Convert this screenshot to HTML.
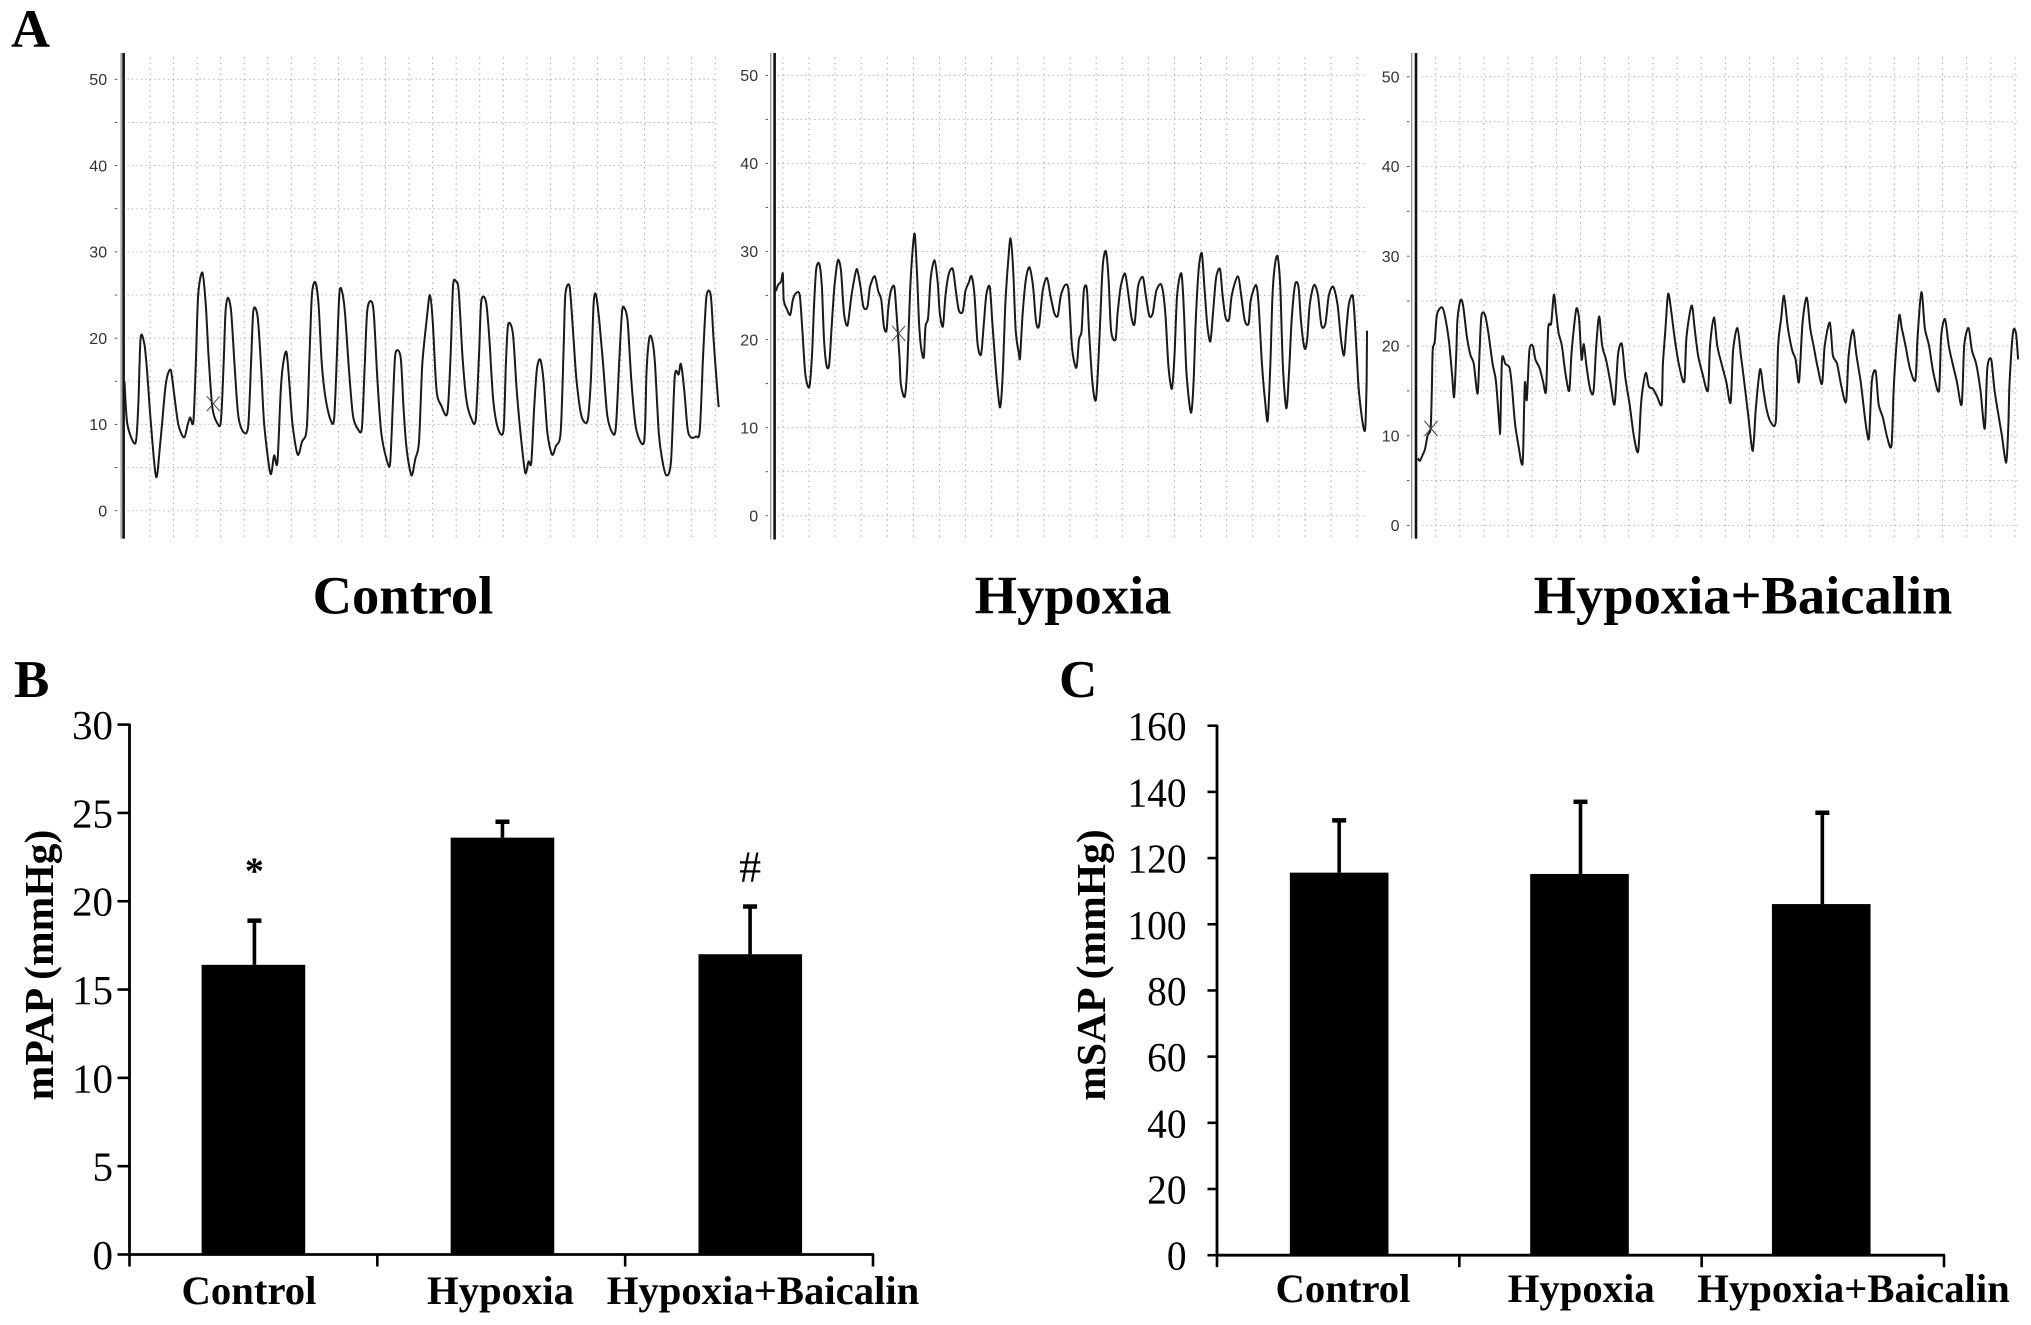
<!DOCTYPE html>
<html>
<head>
<meta charset="utf-8">
<title>mPAP and mSAP under hypoxia and baicalin</title>
<style>
html,body{margin:0;padding:0;background:#fff;}
svg{display:block;}
text{font-family:"Liberation Serif",serif;}
.mono{font-family:"Liberation Sans",sans-serif;}
</style>
</head>
<body>
<svg id="figure" width="2031" height="1325" viewBox="0 0 2031 1325" xmlns="http://www.w3.org/2000/svg">
  <rect width="2031" height="1325" fill="#fff"/>
  <text x="11" y="47" font-size="54" font-weight="700">A</text>
  <text x="14" y="697" font-size="53" font-weight="700">B</text>
  <text x="1059" y="697" font-size="53" font-weight="700">C</text>
  <text x="403" y="613.5" font-size="54.5" font-weight="700" text-anchor="middle">Control</text>
  <text x="1073" y="613.5" font-size="54.5" font-weight="700" text-anchor="middle">Hypoxia</text>
  <text x="1743" y="613.5" font-size="54.5" font-weight="700" text-anchor="middle">Hypoxia+Baicalin</text>
  <text transform="translate(53,965) rotate(-90)" font-size="41.6" font-weight="700" text-anchor="middle">mPAP (mmHg)</text>
  <text transform="translate(1105,965) rotate(-90)" font-size="41.6" font-weight="700" text-anchor="middle">mSAP (mmHg)</text>
  <g id="traces"></g>
  <g id="bars"></g>
</svg>
<script>
/* Panel A: pressure traces (time in recorder units, pressure in mmHg) */
const traceTicks = [0, 10, 20, 30, 40, 50];
const traceGridLevels = [0, 5, 10, 15, 20, 25, 30, 35, 40, 45, 50];

const controlTime = [
264,270,287,293,298,306,312,320,331,340,
350,355,362,368,378,390,398,403,410,415,
420,429,436,442,450,460,468,474,478,483,
490,497,505,516,526,532,537,546,553,560,
573,581,588,595,600,607,613,620,631,640,
650,656,661,668,675,682,690,700,708,714,
719,724,731,740,748,758,767,773,778,785,
792,800,808,820,827,833,838,849,855,862,
872,880,888,895,905,911,917,925,935,948,
955,960,966,972,980,988,998,1008,1015,1020,
1030,1037,1045,1055,1067,1072,1077,1087,1095,1103,
1113,1120,1126,1132,1138,1145,1152,1160,1170,1178,
1188,1194,1198,1207,1214,1222,1232,1245,1252,1258,
1263,1270,1278,1287,1298,1305,1312,1318,1323,1330,
1338,1348,1365,1370,1376,1382,1388,1396,1403,1412,
1422,1430,1438,1443,1450,1457,1464,1475,1483,1490,
1497,1506,1512,1520,1523];
const controlPressure = [
15,10,7.8,12,20,19.3,16,10,3.9,8,
14,15.7,16.3,14,10,8.5,10,10.8,10.3,17,
25,27.6,24,18,12,10.2,10.3,17,23,24.7,
23,17,11,9.1,9.8,17,23.2,22.5,17,10,
4.3,6.4,5.6,14,17,18.4,15,10,6.5,8,
9.5,18,25,26.5,24,17,13,10.6,10.6,18,
25,25.6,23,16,11,9.5,9.6,17,23,24.3,
23,15,9,5.8,5.6,13,18.2,17.8,12,7,
4.1,6,8,17,22.5,25,22,14,12.2,11.3,
18,26,26.6,25.5,18,13,10.8,10.5,18,24.3,
24.2,20,13,9.6,9.3,17,21.6,20.5,14,9,
4.4,5.7,5.6,12,16.5,17.5,15,9,6.5,7.5,
9,18,25,26,21,15,11,10.4,15,24,
25,22,17,11,9,9.6,17,23,23.5,22,
15,9.5,8,16,20,19.8,17,9,6,4.1,
5.7,15.6,15.8,17,14,9.5,8.5,8.6,9.3,18,
24.8,25,20,14,12];

const hypoxiaTime = [
175,180,187,191,193,200,208,214,222,230,
236,243,252,258,263,268,275,281,286,292,
298,303,310,318,325,332,340,348,355,362,
370,377,386,392,403,411,418,424,430,434,
440,448,453,460,463,472,478,484,490,495,
500,505,510,516,520,526,532,541,548,553,
560,566,574,583,590,597,606,612,620,626,
633,640,648,654,660,668,674,680,685,692,
698,704,710,716,722,728,735,738,744,752,
760,768,775,782,790,800,808,817,825,832,
842,850,858,868,874,880,885,892,897,905,
913,920,926,930,936,942,948,958,963,970,
980,988,995,1002,1010,1021,1028,1036,1044,1052,
1064,1073,1080,1088,1094,1100,1110,1116,1122,1132,
1138,1143,1150,1157,1163,1170,1177,1183,1190,1199,
1205,1212,1220,1226,1240,1248,1256,1265,1270,1282,
1288,1296,1303,1309,1315,1320,1326,1332,1338,1344,
1352,1358,1364,1372,1380,1386,1394,1400,1406,1416,
1425,1433,1442,1450,1460,1470,1478,1485,1490,1496,
1505,1510,1518,1524,1530,1534,1537,1538];
const hypoxiaPressure = [
25.5,26.2,26.6,27.5,24.5,23.5,22.8,24.5,25.3,25,
21,16,14.6,18,24,28,28.6,26,20,17,
17.2,21,26,29,27.8,23,21.6,24.5,26.7,28,
26,23.7,23.7,26,27.2,25.5,24.5,21.5,21,23.5,
25.5,26,23,18,15,13.5,17,25,30,32,
28,22,19,18,21.5,22.5,27,29,26.5,23,
21.5,25,27.5,28,25.5,23.3,23.2,25.5,26.5,27.2,
25,19.5,18.3,21.5,25,26,22,18,15,12.3,
16,24,28.5,31.5,28,21,18.5,18,23,27,
28.2,26,22,21.6,25.5,27,25,23,22.7,25,
26.2,25.5,19,16.8,20,21,25.5,25.8,21,15,
13.2,19,26,29,30,27,21,20,23,26,
27.5,25,22.5,21.8,26,27.1,25,22.7,23,25.5,
26.2,23,17,14.4,18,25,27.5,23,16,11.7,
15,22,28,29.8,26,21.5,19.8,23,27,28,
25,22.5,22.3,25,27.2,25,22.2,21.8,24.5,26.2,
24,17,13,10.8,17,25,28.6,29.4,26,17,
12.2,16,22,26.2,26,22,19,20,24,26.2,
25,21.6,21.8,25,26,24,20,18.2,21,24,
25,22,15,12,10,10,15,21];

const baicalinTime = [
135,140,146,152,158,165,168,170,175,180,
192,200,208,215,220,225,228,235,241,250,
258,266,275,280,284,292,300,310,318,326,
328,332,340,350,356,362,370,380,384,386,
390,396,404,410,420,428,435,440,447,453,
458,464,472,480,489,494,500,506,512,518,
523,530,539,546,552,559,566,575,585,595,
603,612,620,630,640,650,656,660,668,675,
685,695,705,708,714,720,727,735,745,758,
763,775,782,790,800,813,818,827,835,845,
856,866,872,882,890,898,908,918,925,935,
943,950,960,972,977,984,991,1000,1010,1018,
1026,1034,1044,1052,1060,1070,1080,1086,1098,1105,
1115,1125,1136,1142,1152,1160,1170,1180,1186,1190,
1196,1205,1212,1222,1232,1242,1247,1252,1260,1266,
1275,1285,1298,1303,1312,1320,1330,1340,1353,1358,
1367,1376,1385,1395,1406,1412,1422,1430,1440,1450,
1460,1466,1475,1483,1493,1500,1510,1515,1518,1526,
1533,1538];
const baicalinPressure = [
7.5,7.2,7.8,8.5,10,10.8,15,19.5,20.5,23.5,
24.3,23,20.5,17,14.3,19,23,25.1,24.5,21,
19,18,14.7,20,23.4,23.5,21.5,18,16,11,
10.8,18.5,18,17.5,15,11.5,9,6.9,14,16,
14,19.5,20,18.5,17.5,16,15,22,22.5,25.7,
24,21.5,20,17,15,19,22,24.2,23,18.5,
20.2,17.5,15,15,20,23.3,20,18.5,16,13.5,
19,20.2,16.5,13.5,10,8.2,13,15,17,15.5,
15.2,14.3,13.5,18,22,25.8,24,21,18,16,
21,24.5,22,19,17,15,20,23.2,20,18,
16,13.7,19.5,22,19,16,12,8.3,13,17.4,
15,13,11.5,11.7,20,23,25.6,22,19.5,18.5,
16,22.5,25.4,22,20,17.5,15.8,20,22.6,19,
18,15.5,13.8,19,21.8,19,16,12,10,10,
16,17.2,13.5,12,9.8,8.9,15,19,23.4,22,
20,17.5,16.2,21,26,22,20,17,15,21,
23,20,18,16,13.5,20,22,19.5,18,15,
10.8,17.5,18.5,15,12,10,7,11,16,21.5,
21.4,18.5];

/* Panels B and C: bar charts */
const barCategories = ["Control", "Hypoxia", "Hypoxia+Baicalin"];
const mpapValues = [16.4, 23.6, 17.0];
const mpapErrorTops = [18.9, 24.5, 19.7];
const mpapTicks = [0, 5, 10, 15, 20, 25, 30];
const mpapAnnotations = ["*", "", "#"];
const msapValues = [115.6, 115.2, 106.1];
const msapErrorTops = [131.4, 137, 133.7];
const msapTicks = [0, 20, 40, 60, 80, 100, 120, 140, 160];

const NS = "http://www.w3.org/2000/svg";

function make(tag, parent, geometry) {
  const node = document.createElementNS(NS, tag);
  for (const key in geometry) node.setAttribute(key, geometry[key]);
  parent.appendChild(node);
  return node;
}

function linear(d0, d1, r0, r1) {
  return v => r0 + (v - d0) * (r1 - r0) / (d1 - d0);
}

function smoothPath(pts) {
  const k = 0.85 / 6;
  let d = "M" + pts[0][0].toFixed(1) + " " + pts[0][1].toFixed(1);
  for (let i = 0; i < pts.length - 1; i++) {
    const p0 = pts[Math.max(i - 1, 0)], p1 = pts[i], p2 = pts[i + 1], p3 = pts[Math.min(i + 2, pts.length - 1)];
    const c1x = p1[0] + (p2[0] - p0[0]) * k, c1y = p1[1] + (p2[1] - p0[1]) * k;
    const c2x = p2[0] - (p3[0] - p1[0]) * k, c2y = p2[1] - (p3[1] - p1[1]) * k;
    d += "C" + [c1x, c1y, c2x, c2y, p2[0], p2[1]].map(n => n.toFixed(1)).join(" ");
  }
  return d;
}

function drawTrace(opts) {
  const root = document.getElementById("traces");
  const g = make("g", root, {});
  
  
  const x = linear(opts.tDomain[0], opts.tDomain[1], opts.xRange[0], opts.xRange[1]);
  const y = linear(0, 50, opts.y0, opts.y50);

  traceGridLevels.forEach(level => {
    const line = make("line", g, {x1: x(opts.gridFrom), x2: x(opts.gridTo), y1: y(level), y2: y(level),
      stroke: "#b8b8b8", "stroke-width": 1, "stroke-dasharray": "1.5 3"});
    
    
    const minor = make("line", g, {x1: opts.axisX - 9, x2: opts.axisX - 6.5, y1: y(level), y2: y(level),
      stroke: "#555", "stroke-width": 1});
    
    
  });

  for (let t = opts.gridStart; t <= opts.tDomain[1] + 1; t += opts.gridStep) {
    const line = make("line", g, {x1: x(t), x2: x(t), y1: opts.top + 4, y2: opts.bottom,
      stroke: "#aaa", "stroke-width": 1, "stroke-dasharray": "1.5 4"});
    
    
  }

  const rule = make("line", g, {x1: opts.axisX, x2: opts.axisX, y1: opts.top, y2: opts.bottom,
    stroke: "#111", "stroke-width": 2.6});
  
  
  const shadow = make("line", g, {x1: opts.axisX - opts.shadowGap, x2: opts.axisX - opts.shadowGap, y1: opts.top, y2: opts.bottom,
    stroke: "#888", "stroke-width": 1.2});
  
  

  traceTicks.forEach(tick => {
    const label = make("text", g, {x: opts.axisX - 16.5, y: y(tick) + 5.7, "font-size": 16,
      "text-anchor": "end", fill: "#333", class: "mono"});
    label.textContent = tick;
    
    
  });

  const n = Math.min(opts.times.length, opts.values.length);
  const pts = [];
  for (let i = 0; i < n; i++) pts.push([x(opts.times[i]), y(opts.values[i])]);
  const line = make("path", g, {d: smoothPath(pts), fill: "none", stroke: "#1a1a1a",
    "stroke-width": 2, "stroke-linejoin": "round"});
  
  

  const mx = x(opts.markT), my = y(opts.markV);
  const mark = make("path", g, {d: `M${mx - 6.5} ${my - 7.5}L${mx + 6.5} ${my + 7.5}M${mx + 6.5} ${my - 7.5}L${mx - 6.5} ${my + 7.5}`,
    fill: "none", stroke: "#444", "stroke-width": 1});
  
  
}

function drawBars(opts) {
  const root = document.getElementById("bars");
  const g = make("g", root, {});
  
  
  const y = linear(0, opts.yMax, opts.y0, opts.yTop);
  const band = (opts.xEnd - opts.axisX) / barCategories.length;
  const cx = i => opts.axisX + band * (i + 0.5);

  barCategories.forEach((cat, i) => {
    const bw = band * opts.barFrac;
    const bar = make("rect", g, {x: cx(i) - bw / 2 + opts.barShift[i], y: y(opts.values[i]), width: bw,
      height: y(0) - y(opts.values[i]), fill: "#000"});
    
    
    const ex = cx(i) + opts.stemShift[i];
    const stem = make("line", g, {x1: ex, x2: ex, y1: y(opts.values[i]), y2: y(opts.errors[i]),
      stroke: "#000", "stroke-width": 3.6});
    
    
    const cap = make("line", g, {x1: ex - 7, x2: ex + 7, y1: y(opts.errors[i]), y2: y(opts.errors[i]),
      stroke: "#000", "stroke-width": 4.5});
    
    
    const label = make("text", g, {x: opts.labelX[i], y: opts.labelY, "font-size": 40.7, "font-weight": 700, "text-anchor": "middle"});
    label.textContent = cat;
    
    
    if (opts.annotations && opts.annotations[i]) {
      const isStar = opts.annotations[i] === "*";
      const note = make("text", g, {x: ex, y: y(opts.errors[i]) + (isStar ? -37 : -25),
        "font-size": isStar ? 38 : 44, "font-weight": isStar ? 700 : 400, "text-anchor": "middle"});
      note.textContent = opts.annotations[i];
      
      
    }
  });

  opts.ticks.forEach(tick => {
    const mark = make("line", g, {x1: opts.axisX - opts.tickLen, x2: opts.axisX, y1: y(tick), y2: y(tick),
      stroke: "#000", "stroke-width": 2.6});
    
    
    const label = make("text", g, {"font-size": 41, "text-anchor": "end",
      transform: `translate(${opts.tickLabelX},${y(tick) + 14.5}) scale(${opts.tickScale},1)`});
    label.textContent = tick;
    
    
  });

  for (let i = 0; i <= barCategories.length; i++) {
    const px = opts.axisX + band * i;
    const mark = make("line", g, {x1: px, x2: px, y1: opts.y0, y2: opts.y0 + 12, stroke: "#000", "stroke-width": 2.6});
    
    
  }

  const yAxis = make("line", g, {x1: opts.axisX, x2: opts.axisX, y1: opts.yTop - 1, y2: opts.y0 + 1, stroke: "#000", "stroke-width": 2.8});
  
  
  const xAxis = make("line", g, {x1: opts.axisX - 1, x2: opts.xEnd + 1, y1: opts.y0, y2: opts.y0, stroke: "#000", "stroke-width": 2.8});
  
  
}

drawTrace({name: "control", times: controlTime, values: controlPressure, tDomain: [262, 1523], xRange: [123.6, 718.7],
  y0: 510.7, y50: 79.3, axisX: 123.6, shadowGap: 2.5, top: 53, bottom: 538.6, gridFrom: 270, gridTo: 1520, gridStart: 318, gridStep: 49.9, markT: 452, markV: 12.4});
drawTrace({name: "hypoxia", times: hypoxiaTime, values: hypoxiaPressure, tDomain: [172, 1538], xRange: [774.6, 1367],
  y0: 515.7, y50: 75.4, axisX: 774.6, shadowGap: 3.8, top: 53, bottom: 539.5, gridFrom: 180, gridTo: 1535, gridStart: 191, gridStep: 60.2, markT: 458, markV: 20.7});
drawTrace({name: "hypoxia-baicalin", times: baicalinTime, values: baicalinPressure, tDomain: [131, 1540], xRange: [1416, 2019],
  y0: 525.4, y50: 76.8, axisX: 1416, shadowGap: 4.3, top: 53, bottom: 538.6, gridFrom: 145, gridTo: 1535, gridStart: 177, gridStep: 56.4, markT: 166, markV: 10.8});

drawBars({name: "mpap", values: mpapValues, errors: mpapErrorTops, ticks: mpapTicks, annotations: mpapAnnotations, yMax: 30,
  axisX: 129.5, xEnd: 873, y0: 1254.5, yTop: 724.6, barFrac: 0.418, barShift: [0, 1.2, 1.2], stemShift: [1, 1.2, 1], tickLen: 12, tickLabelX: 113, tickScale: 1,
  labelX: [249, 500.5, 763], labelY: 1304});
drawBars({name: "msap", values: msapValues, errors: msapErrorTops, ticks: msapTicks, annotations: null, yMax: 160,
  axisX: 1217, xEnd: 1944, y0: 1255.2, yTop: 725.7, barFrac: 0.407, barShift: [1, -1, -1.6], stemShift: [1, 0, -0.5], tickLen: 9.5, tickLabelX: 1186.5, tickScale: 0.96,
  labelX: [1343, 1581.2, 1853.5], labelY: 1302});
</script>
</body>
</html>
